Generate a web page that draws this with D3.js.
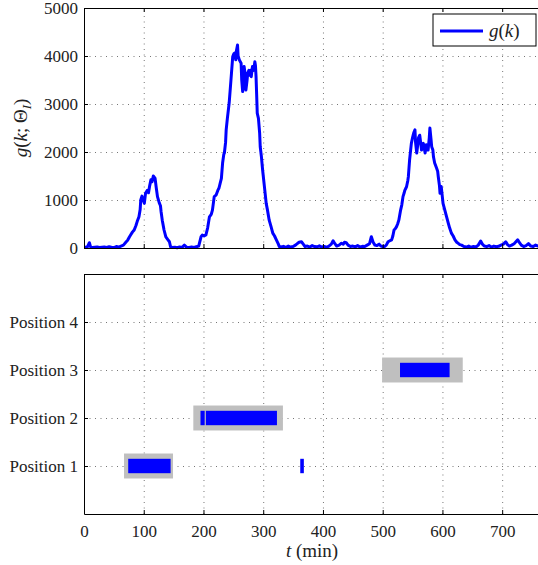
<!DOCTYPE html>
<html>
<head>
<meta charset="utf-8">
<script src="https://cdn.jsdelivr.net/npm/d3@7"></script>
<style>
  body { margin: 0; background: #fff; }
  svg text { font-family: "Liberation Serif", "DejaVu Serif", serif; fill: #222; }
  .grid line { stroke: #000; stroke-opacity: 0.6; stroke-width: 0.9; stroke-dasharray: 1,4.5; }
  .grid path { display: none; }
  .ax path, .ax line { stroke: #000; stroke-width: 1; }
  .ax text { font-size: 17px; }
</style>
</head>
<body>
<svg width="538" height="565"></svg>
<script>
// g(k), t in minutes
var tVals = [0,3,6,9,11,14,18,22,26,30,34,38,42,46,50,54,58,62,66,
  70,73,76,78,81,84,87,89,92,94,95,97,99,101,103,106,108,110,112,114,116,118,119,121,123,126,128,129,131,134,137,140,143,145,
  148,152,156,160,164,168,172,176,180,184,188,192,
  196,198,201,204,207,210,213,215,218,221,224,226,228,230,232,234,235,237,238,240,243,246,249,251,252,254,255,257,258,260,263,264,265.6,267,268,270,271,273,274,276,277,279,280,282,284,286,287,288,289,290,292,294,295,297,299,302,305,307,310,313,316,319,322,325,327,
  330,334,338,342,346,350,354,357,360,364,367,370,374,378,382,386,390,394,398,402,406,410,414,417,420,423,427,431,434,436,439,442,446,450,454,458,462,466,470,474,478,481,484,487,490,494,497,500,
  503,506,509,512,515,517,519,521,523,525,527,530,532,534,536,537,539,540,542,543,545,546,548,550,551,552,554,555,557,559,560,562,564,565,567,568,570,571,573,575,576,578,579,581,582,584,585,587,590,592,593,595,596,598,600,601,604,607,610,612,615,618,621,624,626,629,632,
  636,640,644,648,652,656,660,664,667,670,674,678,682,686,690,694,698,702,706,709,712,716,720,723,726,729,732,736,740,744,748,752,756,760,765];
var gVals = [20,15,30,110,25,10,15,20,10,15,20,10,25,15,10,30,20,40,60,
  120,160,230,270,330,375,470,550,650,800,1000,1080,1000,930,1140,1200,1150,1300,1420,1380,1500,1470,1450,1250,1070,940,880,760,580,375,230,180,130,20,
  10,15,5,20,10,60,15,10,20,10,25,40,
  236,270,250,270,420,650,700,790,1070,1100,1200,1250,1350,1450,1770,1950,1980,2200,2460,2700,3020,3500,3990,4050,4060,3920,4100,4230,4000,3920,3850,3500,3260,3500,3780,3600,3290,3500,3640,3700,3600,3700,3570,3780,3700,3880,3800,3570,3200,2810,2700,2400,2110,1900,1625,1280,930,800,580,450,310,250,170,90,30,
  20,35,15,40,20,30,60,90,120,130,80,30,40,20,50,30,25,45,20,30,15,40,80,150,90,40,60,100,80,120,110,60,30,40,25,50,20,35,30,60,90,235,120,60,50,80,40,30,
  30,60,130,150,170,250,375,400,440,500,580,790,900,1070,1150,1200,1250,1280,1400,1490,1830,1950,2180,2300,2350,2400,2460,2200,1980,2180,2300,2350,2150,2040,2150,2180,2050,1980,2150,2100,2040,2300,2500,2250,2110,2040,1900,1770,1670,1600,1490,1300,1140,1280,1050,930,790,650,510,420,310,250,170,120,100,70,60,
  30,20,40,15,30,20,60,145,80,40,30,50,20,40,25,35,60,80,130,70,40,60,90,130,170,110,60,30,50,90,40,30,60,40,80];

var gTicks = [0, 1000, 2000, 3000, 4000, 5000];
var tTicks = [0, 100, 200, 300, 400, 500, 600, 700];
var posLabels = ["Position 1", "Position 2", "Position 3", "Position 4"];

// grey = true presence zone, blue = detected interval
var zonePos = [1, 2, 3];
var zoneStart = [67, 183, 499];
var zoneEnd = [149, 333, 634];
var detPos = [1, 1, 2, 2, 3];
var detStart = [74, 362, 195, 204, 529];
var detEnd = [145, 368, 202, 323, 612];

var svg = d3.select("svg");
var left = 84, right = 541;
var x = d3.scaleLinear().domain([0, 765]).range([left, right]);
var yTop = d3.scaleLinear().domain([0, 5000]).range([248, 8]);
var yBot = d3.scaleLinear().domain([0, 5]).range([514, 274]);

function panel(y, yTickVals) {
  var g = svg.append("g");
  g.append("g").attr("class", "grid")
    .attr("transform", "translate(0," + y.range()[0] + ")")
    .call(d3.axisBottom(x).tickValues(tTicks.slice(1)).tickSize(-(y.range()[0] - y.range()[1])).tickFormat(""));
  g.append("g").attr("class", "grid")
    .attr("transform", "translate(" + left + ",0)")
    .call(d3.axisLeft(y).tickValues(yTickVals.filter(function(v) { return v > y.domain()[0] && v < y.domain()[1]; }))
      .tickSize(-(right - left)).tickFormat(""));
  return g;
}

function frame(y, yTickVals, yFmt, showX) {
  var g = svg.append("g");
  g.append("g").attr("class", "ax")
    .attr("transform", "translate(0," + y.range()[0] + ")")
    .call(d3.axisBottom(x).tickValues(tTicks).tickSizeInner(-4).tickSizeOuter(0).tickPadding(11)
      .tickFormat(showX ? d3.format("d") : ""));
  g.append("g").attr("class", "ax")
    .attr("transform", "translate(0," + y.range()[1] + ")")
    .call(d3.axisTop(x).tickValues(tTicks).tickSizeInner(-4).tickSizeOuter(0).tickFormat(""));
  g.append("g").attr("class", "ax")
    .attr("transform", "translate(" + left + ",0)")
    .call(d3.axisLeft(y).tickValues(yTickVals).tickSizeInner(-4).tickSizeOuter(0).tickPadding(6).tickFormat(yFmt));
  return g;
}

// upper panel
panel(yTop, gTicks);
var pts = tVals.map(function(t, i) { return [t, gVals[i]]; });
svg.append("clipPath").attr("id", "clipTop")
  .append("rect").attr("x", left).attr("y", 6).attr("width", right - left).attr("height", 244);
svg.append("path")
  .datum(pts)
  .attr("clip-path", "url(#clipTop)")
  .attr("fill", "none")
  .attr("stroke", "#0000ff")
  .attr("stroke-width", 3)
  .attr("stroke-linejoin", "round")
  .attr("d", d3.line().x(function(d) { return x(d[0]); }).y(function(d) { return yTop(d[1]); }));
frame(yTop, gTicks, d3.format("d"), false);

// legend
var lg = svg.append("g");
lg.append("rect").attr("x", 433).attr("y", 14).attr("width", 103).attr("height", 32)
  .attr("fill", "#fff").attr("stroke", "#000").attr("stroke-width", 1);
lg.append("line").attr("x1", 440).attr("x2", 483).attr("y1", 31).attr("y2", 31)
  .attr("stroke", "#0000ff").attr("stroke-width", 3);
var lt = lg.append("text").attr("x", 489).attr("y", 37).style("font-size", "19px");
lt.append("tspan").style("font-style", "italic").text("g");
lt.append("tspan").text("(");
lt.append("tspan").style("font-style", "italic").text("k");
lt.append("tspan").text(")");

// y label
var yl = svg.append("text")
  .attr("transform", "translate(27,128) rotate(-90)")
  .attr("text-anchor", "middle")
  .style("font-size", "19px");
yl.append("tspan").style("font-style", "italic").text("g");
yl.append("tspan").text("(");
yl.append("tspan").style("font-style", "italic").text("k");
yl.append("tspan").text("; Θ");
yl.append("tspan").style("font-style", "italic").style("font-size", "13px").attr("dy", 4).text("I");
yl.append("tspan").attr("dy", -4).text(")");

// lower panel
panel(yBot, [1, 2, 3, 4]);
svg.append("g").selectAll("rect").data(zonePos).enter().append("rect")
  .attr("x", function(d, i) { return x(zoneStart[i]); })
  .attr("width", function(d, i) { return x(zoneEnd[i]) - x(zoneStart[i]); })
  .attr("y", function(d) { return yBot(d + 0.26); })
  .attr("height", function(d) { return yBot(d - 0.26) - yBot(d + 0.26); })
  .attr("fill", "#bfbfbf");
svg.append("g").selectAll("rect").data(detPos).enter().append("rect")
  .attr("x", function(d, i) { return x(detStart[i]); })
  .attr("width", function(d, i) { return x(detEnd[i]) - x(detStart[i]); })
  .attr("y", function(d) { return yBot(d + 0.15); })
  .attr("height", function(d) { return yBot(d - 0.15) - yBot(d + 0.15); })
  .attr("fill", "#0000ff");
frame(yBot, [1, 2, 3, 4], function(d) { return posLabels[d - 1]; }, true);

// x label
var xl = svg.append("text").attr("x", 312).attr("y", 557).attr("text-anchor", "middle")
  .style("font-size", "19px");
xl.append("tspan").style("font-style", "italic").text("t");
xl.append("tspan").text(" (min)");
</script>
</body>
</html>
